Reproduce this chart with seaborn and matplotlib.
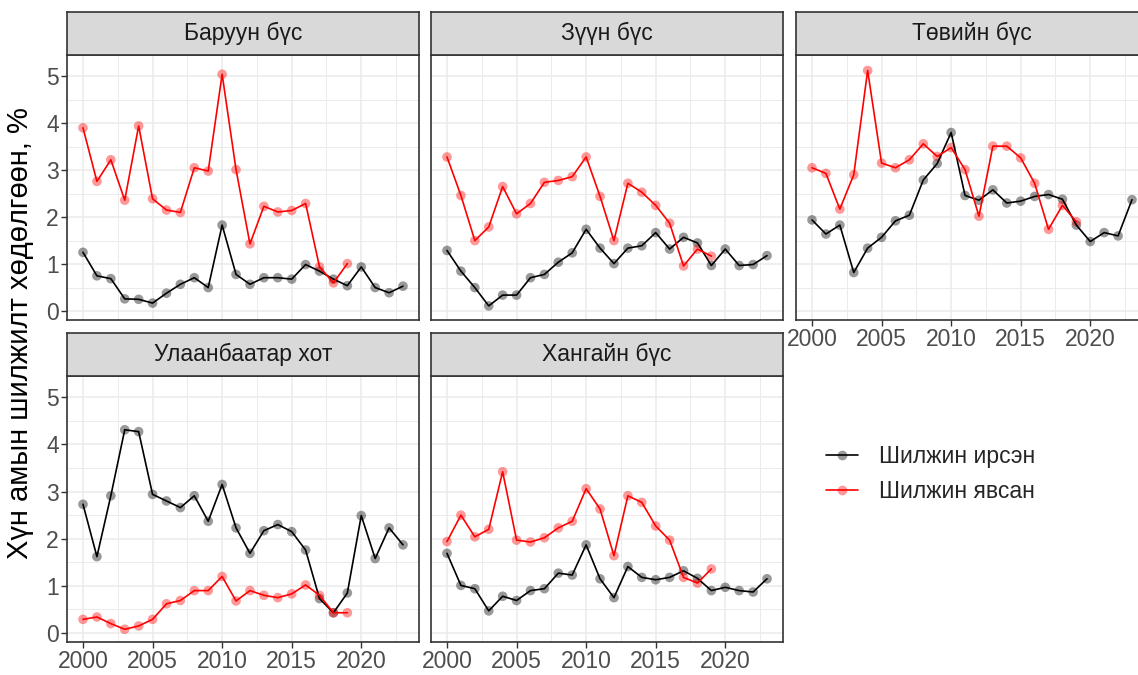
import numpy as np
import pandas as pd
import matplotlib
matplotlib.use("Agg")
import matplotlib.pyplot as plt
import seaborn as sns
from matplotlib.lines import Line2D
from matplotlib.ticker import MultipleLocator

# --- data ---
regions = ["Баруун бүс", "Зүүн бүс", "Төвийн бүс", "Улаанбаатар хот", "Хангайн бүс"]
series_names = ["Шилжин ирсэн", "Шилжин явсан"]
years_in = list(range(2000, 2024))
years_out = list(range(2000, 2020))

in_baruun = [1.25, 0.75, 0.69, 0.26, 0.25, 0.17, 0.38, 0.57, 0.71, 0.50, 1.83, 0.78,
             0.57, 0.71, 0.71, 0.68, 0.99, 0.85, 0.68, 0.54, 0.94, 0.50, 0.39, 0.53]
out_baruun = [3.90, 2.76, 3.22, 2.36, 3.94, 2.39, 2.15, 2.10, 3.05, 2.98, 5.04, 3.01,
              1.43, 2.23, 2.11, 2.14, 2.29, 0.94, 0.60, 1.01]

in_zuun = [1.29, 0.85, 0.50, 0.11, 0.34, 0.34, 0.71, 0.78, 1.04, 1.24, 1.74, 1.34,
           1.01, 1.34, 1.39, 1.67, 1.32, 1.57, 1.45, 0.97, 1.32, 0.97, 0.99, 1.18]
out_zuun = [3.28, 2.46, 1.50, 1.79, 2.65, 2.07, 2.29, 2.74, 2.78, 2.86, 3.28, 2.44,
            1.50, 2.72, 2.53, 2.25, 1.87, 0.96, 1.32, 1.17]

in_tuv = [1.94, 1.64, 1.83, 0.82, 1.34, 1.57, 1.92, 2.04, 2.79, 3.14, 3.80, 2.46,
          2.36, 2.58, 2.30, 2.34, 2.44, 2.48, 2.38, 1.83, 1.48, 1.67, 1.60, 2.37]
out_tuv = [3.05, 2.93, 2.17, 2.90, 5.12, 3.15, 3.05, 3.22, 3.56, 3.29, 3.48, 3.01,
           2.02, 3.51, 3.51, 3.26, 2.72, 1.74, 2.25, 1.90]

in_ub = [2.73, 1.62, 2.91, 4.31, 4.27, 2.94, 2.80, 2.66, 2.91, 2.37, 3.15, 2.23,
         1.69, 2.17, 2.30, 2.15, 1.76, 0.73, 0.43, 0.85, 2.49, 1.58, 2.23, 1.87]
out_ub = [0.29, 0.34, 0.20, 0.08, 0.15, 0.29, 0.62, 0.69, 0.90, 0.90, 1.20, 0.68,
          0.90, 0.80, 0.75, 0.83, 1.02, 0.80, 0.43, 0.43]

in_khangai = [1.69, 1.01, 0.94, 0.47, 0.78, 0.69, 0.90, 0.94, 1.27, 1.23, 1.87, 1.15,
              0.75, 1.41, 1.18, 1.13, 1.18, 1.32, 1.16, 0.90, 0.97, 0.90, 0.87, 1.15]
out_khangai = [1.94, 2.50, 2.04, 2.20, 3.42, 1.97, 1.93, 2.02, 2.23, 2.37, 3.06, 2.63,
               1.64, 2.91, 2.77, 2.27, 1.97, 1.18, 1.06, 1.36]

in_values = [in_baruun, in_zuun, in_tuv, in_ub, in_khangai]
out_values = [out_baruun, out_zuun, out_tuv, out_ub, out_khangai]

rows = []
for reg, vin, vout in zip(regions, in_values, out_values):
    for y, v in zip(years_in, vin):
        rows.append((reg, series_names[0], y, v))
    for y, v in zip(years_out, vout):
        rows.append((reg, series_names[1], y, v))
df = pd.DataFrame(rows, columns=["region", "series", "year", "value"])

palette = {series_names[0]: "#000000", series_names[1]: "#FF0000"}

sns.set_theme(style="white")
plt.rcParams["font.family"] = ["Liberation Sans", "DejaVu Sans"]

W, H = 1138, 675
fig = plt.figure(figsize=(W / 100, H / 100), dpi=100)

col_left = [67, 431, 796]
row_top = [55, 376]
row_bottom = [320, 642]
strip_top = [12, 333]
panel_w = 352

for i, reg in enumerate(regions):
    r, c = divmod(i, 3)
    L, T, B = col_left[c], row_top[r], row_bottom[r]
    ax = fig.add_axes([L / W, 1 - B / H, panel_w / W, (B - T) / H])
    sub = df[df.region == reg]
    sns.lineplot(data=sub, x="year", y="value", hue="series", palette=palette,
                 hue_order=series_names, ax=ax, legend=False, linewidth=1.2,
                 estimator=None)
    sns.scatterplot(data=sub, x="year", y="value", hue="series", palette=palette,
                    hue_order=series_names, ax=ax, legend=False, s=48,
                    alpha=0.4, linewidth=0)
    ax.set_xlim(1998.85, 2024.15)
    ax.set_ylim(-0.19, 5.45)
    ax.set_xticks([2000, 2005, 2010, 2015, 2020])
    ax.set_yticks([0, 1, 2, 3, 4, 5])
    ax.xaxis.set_minor_locator(MultipleLocator(2.5))
    ax.yaxis.set_minor_locator(MultipleLocator(0.5))
    ax.grid(which="major", color="#EBEBEB", linewidth=1.1)
    ax.grid(which="minor", color="#EBEBEB", linewidth=0.7)
    ax.set_axisbelow(True)
    ax.set_facecolor("white")
    for sp in ax.spines.values():
        sp.set_color("#333333")
        sp.set_linewidth(1.2)
    show_y = c == 0
    show_x = r == 1 or i == 2
    ax.tick_params(which="major", length=4, width=1, color="#333333",
                   labelcolor="#4D4D4D", labelsize=16.5, pad=2,
                   left=show_y, labelleft=show_y,
                   bottom=show_x, labelbottom=show_x)
    ax.tick_params(which="minor", length=0)
    ax.set_xlabel("")
    ax.set_ylabel("")

    sax = fig.add_axes([L / W, 1 - T / H, panel_w / W, (T - strip_top[r]) / H])
    sax.set_facecolor("#D9D9D9")
    sax.set_xticks([])
    sax.set_yticks([])
    for sp in sax.spines.values():
        sp.set_color("#333333")
        sp.set_linewidth(1.2)
    sax.text(0.5, 0.5, reg, ha="center", va="center", fontsize=16.5,
             color="#1A1A1A", transform=sax.transAxes)

fig.text(20 / W, 1 - 333 / H, "Хүн амын шилжилт хөдөлгөөн, %", rotation=90,
         ha="center", va="center", fontsize=21, color="black")

# legend keys: solid line with a semi-transparent point on top
handles = []
for n in series_names:
    pt = matplotlib.colors.to_rgba(palette[n], 0.4)
    handles.append(Line2D([0], [0], color=palette[n], linewidth=1.2, marker="o",
                          markersize=7, markerfacecolor=pt, markeredgecolor=pt,
                          markeredgewidth=0))
fig.legend(handles, series_names, loc="center left",
           bbox_to_anchor=(826 / W, 1 - 474 / H), frameon=False,
           fontsize=16.5, handlelength=1.4, handletextpad=0.9,
           labelspacing=0.55, borderpad=0, borderaxespad=0)

fig.savefig("out.png", dpi=100)
